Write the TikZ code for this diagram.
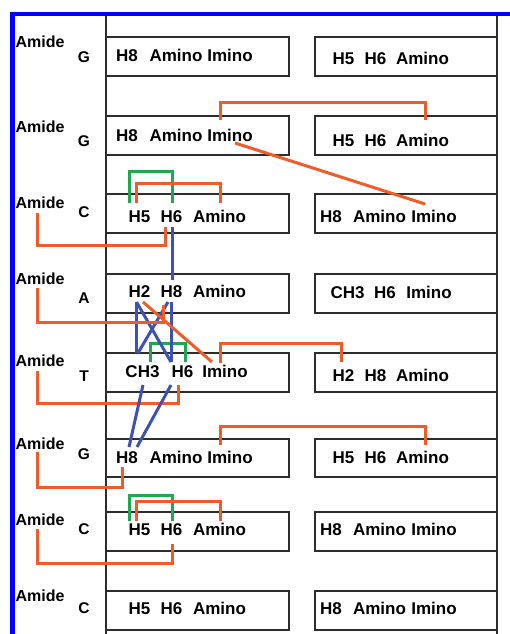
\documentclass[tikz,border=0pt]{standalone}
\usepackage{fontspec}
\setmainfont{Liberation Sans}
\usetikzlibrary{calc}
\definecolor{orl}{RGB}{238,92,42}
\definecolor{grl}{RGB}{30,168,80}
\definecolor{bll}{RGB}{62,82,182}
\definecolor{framecol}{RGB}{0,0,255}
\definecolor{boxcol}{RGB}{45,45,45}
\tikzset{
  word/.style={anchor=base, inner sep=0pt, font=\fontsize{17}{19}\selectfont\bfseries},
  amide/.style={anchor=base, inner sep=0pt, font=\fontsize{16}{18}\selectfont\bfseries},
  baselbl/.style={anchor=base, inner sep=0pt, font=\fontsize{15.5}{17}\selectfont\bfseries},
  boxst/.style={draw=boxcol, line width=1.5pt},
  vline/.style={draw=boxcol, line width=2pt},
  frameline/.style={draw=framecol, line width=4.5pt},
  orline/.style={draw=orl, line width=3pt},
  grline/.style={draw=grl, line width=3pt},
  blline/.style={draw=bll, line width=3pt}
}
\begin{document}
\begin{tikzpicture}[x=1pt,y=-1pt]
\useasboundingbox (0,0) rectangle (510,634);
\fill[white] (0,0) rectangle (510,634);
% boxes
\foreach \t/\b in {37/76,116/155,194/233,274/313,353/392,439/477,512/551,591/630}{
  \draw[boxst] (106,\t) rectangle (289,\b);
  \draw[boxst] (315,\t) rectangle (497,\b);
}
\draw[vline] (106,16) -- (106,634);
\draw[vline] (497,16) -- (497,634);
\draw[frameline] (10,14) -- (510,14);
\draw[frameline] (12.5,12) -- (12.5,634);
% row labels
\foreach \n/\y/\l/\ly in {1/48/G/63,2/132/G/146,3/208/C/217,4/284/A/303,5/366/T/381,6/449/G/459,7/525/C/534,8/601/C/613}{
  \node[amide] (M\n) at (40,\y) {Amide};
  \node[baselbl] (B\n) at (84,\ly) {\l};
}
% row 1
\node[word] (L1a) at (127,62) {H8};
\node[word] (L1b) at (176,62) {Amino};
\node[word] (L1c) at (230,62) {Imino};
\node[word] (R1a) at (343.5,64) {H5};
\node[word] (R1b) at (375.5,64) {H6};
\node[word] (R1c) at (422.5,64) {Amino};
% row 2
\node[word] (L2a) at (127,141) {H8};
\node[word] (L2b) at (176,141) {Amino};
\node[word] (L2c) at (230,141) {Imino};
\node[word] (R2a) at (343.5,146) {H5};
\node[word] (R2b) at (375.5,146) {H6};
\node[word] (R2c) at (422.5,146) {Amino};
% row 3
\node[word] (L3a) at (139.5,222) {H5};
\node[word] (L3b) at (171.5,222) {H6};
\node[word] (L3c) at (219.5,222) {Amino};
\node[word] (R3a) at (331,222) {H8};
\node[word] (R3b) at (379.5,222) {Amino};
\node[word] (R3c) at (434,222) {Imino};
% row 4
\node[word] (L4a) at (139.5,297) {H2};
\node[word] (L4b) at (171.5,297) {H8};
\node[word] (L4c) at (219.5,297) {Amino};
\node[word] (R4a) at (347.5,298) {CH3};
\node[word] (R4b) at (385,298) {H6};
\node[word] (R4c) at (429,298) {Imino};
% row 5
\node[word] (L5a) at (142.5,377) {CH3};
\node[word] (L5b) at (182.5,377) {H6};
\node[word] (L5c) at (225,377) {Imino};
\node[word] (R5a) at (343.5,381) {H2};
\node[word] (R5b) at (375.5,381) {H8};
\node[word] (R5c) at (422.5,381) {Amino};
% row 6
\node[word] (L6a) at (127,463) {H8};
\node[word] (L6b) at (176,463) {Amino};
\node[word] (L6c) at (230,463) {Imino};
\node[word] (R6a) at (343.5,463) {H5};
\node[word] (R6b) at (375.5,463) {H6};
\node[word] (R6c) at (422.5,463) {Amino};
% row 7
\node[word] (L7a) at (139.5,535) {H5};
\node[word] (L7b) at (171.5,535) {H6};
\node[word] (L7c) at (219.5,535) {Amino};
\node[word] (R7a) at (331,535) {H8};
\node[word] (R7b) at (379.5,535) {Amino};
\node[word] (R7c) at (434,535) {Imino};
% row 8
\node[word] (L8a) at (139.5,614) {H5};
\node[word] (L8b) at (171.5,614) {H6};
\node[word] (L8c) at (219.5,614) {Amino};
\node[word] (R8a) at (331,614) {H8};
\node[word] (R8b) at (379.5,614) {Amino};
\node[word] (R8c) at (434,614) {Imino};

% ---- connectors ----
% green brackets
\draw[grline] ($(L3a.base)+(-10.5,-19)$) -- ++(0,-32) -| ($(L3b.base)+(0.5,-19)$);
\draw[grline] ($(L5a.base)+(7.5,-15)$) -- ++(0,-19) -| ($(L5b.base)+(2.5,-15)$);
\draw[grline] ($(L7a.base)+(-10.5,-14)$) -- ++(0,-26) -| ($(L7b.base)+(0.5,-14)$);
% orange brackets
\draw[orline] ($(L2c.base)+(-10,-21)$) -- ++(0,-18) -| ($(R2c.base)+(2.5,-26)$);
\draw[orline] ($(L2c.base)+(5,2)$) -- ($(R3c.base)+(-9,-18)$);
\draw[orline] ($(L3a.base)+(-3.5,-19)$) -- ++(0,-20) -| ($(L3c.base)+(0.5,-19)$);
\draw[orline] ($(M3.base)+(-3,5)$) -- ++(0,32) -| ($(L3b.base)+(-6.5,5)$);
\draw[orline] ($(L5c.base)+(-5,-14)$) -- ++(0,-20) -| ($(R5a.base)+(-2.5,-19)$);
\draw[orline] ($(M5.base)+(-3,5)$) -- ++(0,32) -| ($(L5b.base)+(-4.5,8)$);
\draw[orline] ($(L6c.base)+(-10,-18)$) -- ++(0,-19) -| ($(R6c.base)+(2.5,-18)$);
\draw[orline] ($(M6.base)+(-3,3)$) -- ++(0,35) -| ($(L6a.base)+(-5,4)$);
\draw[orline] ($(L7a.base)+(-3.5,-14)$) -- ++(0,-20) -| ($(L7c.base)+(0.5,-14)$);
\draw[orline] ($(M7.base)+(-3,4)$) -- ++(0,34) -| ($(L7b.base)+(0.5,9)$);
% blue lines
\draw[blline] ($(L3b.base)+(0.5,5)$) -- ($(L4b.base)+(0.5,-17)$);
\draw[blline] ($(L4a.base)+(-3.5,5)$) -- ($(L5a.base)+(-6.5,-24)$);
\draw[blline] ($(L4a.base)+(-3,5)$) -- ($(L5b.base)+(-11.5,-15)$);
\draw[blline] ($(L4b.base)+(-3.5,5)$) -- ($(L5a.base)+(-4.5,-24)$);
\draw[blline] ($(L4b.base)+(-0.5,5)$) -- ($(L5b.base)+(-11.5,-15)$);
\draw[blline] ($(L5a.base)+(0.5,8)$) -- ($(L6a.base)+(2,-16)$);
\draw[blline] ($(L5b.base)+(-11.5,8)$) -- ($(L6a.base)+(10,-16)$);
% orange over blue (row 4)
\draw[orline] ($(M4.base)+(-3,4)$) -- ++(0,34) -| ($(L4b.base)+(-8.5,8)$);
\draw[orline] ($(L4a.base)+(3.5,5)$) -- ($(L5c.base)+(-13,-15)$);
\end{tikzpicture}
\end{document}
